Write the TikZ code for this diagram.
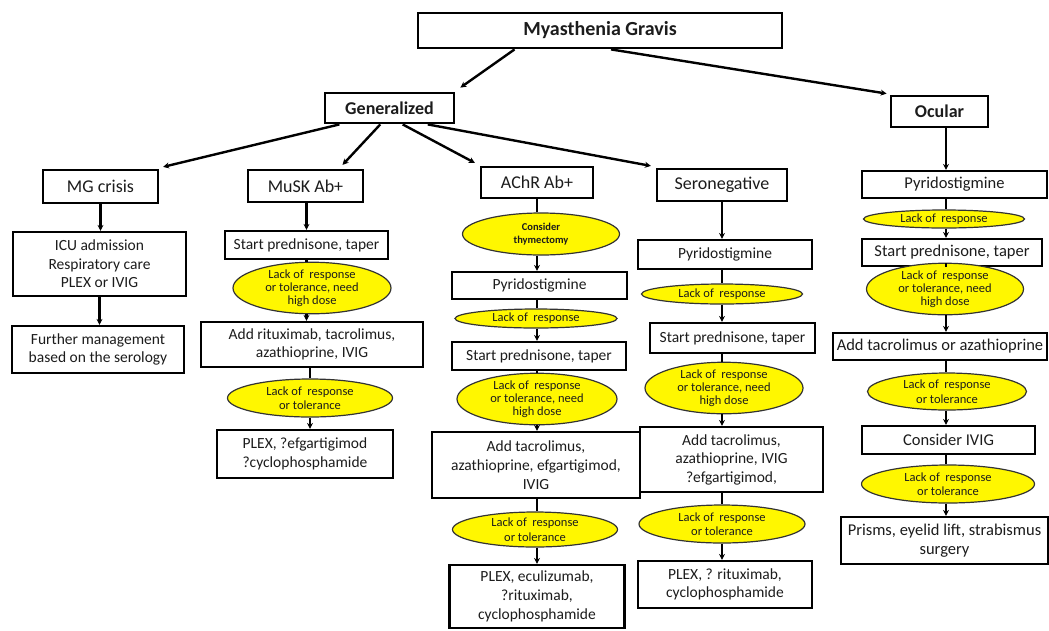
\documentclass[tikz,border=0pt]{standalone}
\usepackage{fontspec}
\setmainfont{Carlito}
\usetikzlibrary{arrows.meta,shapes.geometric,calc}
\definecolor{txt}{HTML}{1C1C1C}
\definecolor{ylw}{HTML}{FFF700}
\tikzset{
  bx/.style={draw=black, line width=2.2pt, fill=white, inner sep=0pt, align=center, text=txt, font=\fontsize{15.5}{18.5}\selectfont},
  obx/.style={bx, font=\fontsize{16.5}{19}\selectfont},
  tbx/.style={bx, line width=2.8pt, font=\bfseries\fontsize{18}{21}\selectfont},
  hbx/.style={bx, font=\fontsize{18}{21}\selectfont},
  el/.style={ellipse, draw=black!80, line width=1.2pt, fill=ylw, inner sep=0pt, align=center, text=txt, font=\fontsize{12.5}{14.5}\selectfont},
  elt/.style={el, font=\fontsize{12.5}{12.8}\selectfont},
  ln/.style={line width=2.4pt, draw=black},
  ar/.style={line width=2.4pt, draw=black, -{Stealth[length=6pt,width=6pt]}},
}
\begin{document}
\begin{tikzpicture}[x=1pt,y=-1pt]
\useasboundingbox (0,0) rectangle (1049,630);
\coordinate (cA) at (537,0);
\coordinate (cS) at (722,0);
\coordinate (cO) at (946,0);
% top
\node[tbx, minimum width=364, minimum height=35, font=\bfseries\fontsize{20}{23}\selectfont] (mg) at (600,30.5) {Myasthenia Gravis};
\node[tbx, minimum width=129, minimum height=30] (gen) at (389.5,108) {Generalized};
\node[tbx, minimum width=97, minimum height=31] (ocu) at (939.5,111.5) {Ocular};
% second row
\node[hbx, minimum width=115, minimum height=33] (crisis) at (100.5,186.5) {MG crisis};
\node[hbx, minimum width=115, minimum height=32] (musk) at (305.5,186) {MuSK Ab+};
\node[hbx, minimum width=112, minimum height=31] (achr) at (537,182.5) {AChR Ab+};
\node[hbx, minimum width=130, minimum height=32] (sero) at (722,185) {Seronegative};
\node[obx, minimum width=185, minimum height=27] (opyr) at (954.5,184.5) {Pyridostigmine};
% MG crisis column
\node[bx, minimum width=173, minimum height=64] (icu) at (99.5,264) {ICU admission\\Respiratory care\\PLEX or IVIG};
\node[bx, minimum width=172, minimum height=47] (further) at (98,349.5) {Further management\\based on the serology};
% MuSK column
\node[bx, minimum width=163, minimum height=28] (mpred) at (306.5,245) {Start prednisone, taper};
\node[elt, minimum width=158, minimum height=40] (me1) at (312,288) {Lack of\ \ response\\or tolerance, need\\high dose};
\node[bx, minimum width=222, minimum height=45] (madd) at (312,344.5) {Add rituximab, tacrolimus,\\azathioprine, IVIG};
\node[el, minimum width=165, minimum height=38] (me2) at (310,398) {Lack of\ \ response\\or tolerance};
\node[bx, minimum width=176, minimum height=48] (mplex) at (305,454) {PLEX, ?efgartigimod\\?cyclophosphamide};
% AChR column
\node[el, minimum width=157, minimum height=42, font=\bfseries\fontsize{10.5}{12.5}\selectfont] (ae0) at (541,234) {Consider\\thymectomy};
\node[bx, minimum width=175, minimum height=27] (apyr) at (539.5,285.5) {Pyridostigmine};
\node[el, minimum width=162, minimum height=19] (ae1) at (536,318.5) {Lack of\ \ response};
\node[bx, minimum width=174, minimum height=28] (apred) at (539,356) {Start prednisone, taper};
\node[elt, minimum width=160, minimum height=40] (ae2) at (537,399) {Lack of\ \ response\\or tolerance, need\\high dose};
\node[bx, minimum width=208, minimum height=66, font=\fontsize{15.5}{19}\selectfont] (aadd) at (536,465) {Add tacrolimus,\\azathioprine, efgartigimod,\\IVIG};
\node[el, minimum width=165, minimum height=35] (ae3) at (535,529.5) {Lack of\ \ response\\or tolerance};
\node[bx, minimum width=175, minimum height=63, font=\fontsize{15.5}{19}\selectfont] (aplex) at (537,596.5) {PLEX, eculizumab,\\?rituximab,\\cyclophosphamide};
% Seronegative column
\node[bx, minimum width=174, minimum height=29] (spyr) at (725,254.5) {Pyridostigmine};
\node[el, minimum width=161, minimum height=20] (se1) at (722,294) {Lack of\ \ response};
\node[bx, minimum width=165, minimum height=30] (spred) at (732.5,338) {Start prednisone, taper};
\node[elt, minimum width=158, minimum height=41] (se2) at (724,388) {Lack of\ \ response\\or tolerance, need\\high dose};
\node[bx, minimum width=183, minimum height=65] (sadd) at (731.5,459.5) {Add tacrolimus,\\azathioprine, IVIG\\?efgartigimod,};
\node[el, minimum width=166, minimum height=38] (se3) at (722,524) {Lack of\ \ response\\or tolerance};
\node[bx, minimum width=174, minimum height=47] (splex) at (725,584.5) {PLEX, ? rituximab,\\cyclophosphamide};
% Ocular column
\node[el, minimum width=161, minimum height=18] (oe1) at (944,219) {Lack of\ \ response};
\node[obx, minimum width=180, minimum height=27] (opred) at (952,252.5) {Start prednisone, taper};
\node[elt, minimum width=157, minimum height=42] (oe2) at (945,289) {Lack of\ \ response\\or tolerance, need\\high dose};
\node[obx, minimum width=214, minimum height=27] (oadd) at (940,346.5) {Add tacrolimus or azathioprine};
\node[el, minimum width=159, minimum height=37] (oe3) at (947,391.5) {Lack of\ \ response\\or tolerance};
\node[obx, minimum width=173, minimum height=28] (oivig) at (948.5,440) {Consider IVIG};
\node[el, minimum width=173, minimum height=38] (oe4) at (948,484) {Lack of\ \ response\\or tolerance};
\node[obx, minimum width=207, minimum height=47] (oprism) at (944.5,540.5) {Prisms, eyelid lift, strabismus\\surgery};
% top connectors
\draw[ar] ($(mg.south west)!0.267!(mg.south east)$) -- ($(gen.north east)+(5,-4)$);
\draw[ar] ($(mg.south west)!0.53!(mg.south east)$) -- ($(ocu.north west)+(-3,-1)$);
\draw[ar] ($(gen.south west)!0.12!(gen.south east)$) -- ($(crisis.north east)+(4,-2)$);
\draw[ar] ($(gen.south west)!0.43!(gen.south east)$) -- ($(musk.north)+(37,-4)$);
\draw[ar] ($(gen.south west)!0.6!(gen.south east)$) -- ($(achr.north west)+(-5,-3)$);
\draw[ar] ($(gen.south west)!0.79!(gen.south east)$) -- ($(sero.north west)+(-5,-2)$);
\draw[ar] (ocu.south -| cO) -- (opyr.north -| cO);
% MG crisis column
\draw[ar] (crisis.south) -- (crisis.south |- icu.north);
\draw[ar] (icu.south) -- (icu.south |- further.north);
% MuSK column
\draw[ar] (musk.south -| mpred.north) -- (mpred.north);
\draw[ln] (mpred.south) -- (mpred.south |- me1.north);
\draw[ar] (me1.south -| mpred.south) -- (mpred.south |- madd.north);
\draw[ln] (madd.south -| me2.north) -- (me2.north);
\draw[ar] (me2.south) -- (me2.south |- mplex.north);
% AChR column
\draw[ln] (achr.south -| cA) -- (ae0.north -| cA);
\draw[ar] (ae0.south -| cA) -- (apyr.north -| cA);
\draw[ln] (apyr.south -| cA) -- (ae1.north -| cA);
\draw[ar] (ae1.south -| cA) -- (apred.north -| cA);
\draw[ln] (apred.south -| cA) -- (ae2.north -| cA);
\draw[ar] (ae2.south -| cA) -- (aadd.north -| cA);
\draw[ln] (aadd.south -| cA) -- (ae3.north -| cA);
\draw[ar] (ae3.south -| cA) -- (aplex.north -| cA);
% Seronegative column
\draw[ar] (sero.south -| cS) -- (spyr.north -| cS);
\draw[ln] (spyr.south -| cS) -- (se1.north -| cS);
\draw[ar] (se1.south -| cS) -- (spred.north -| cS);
\draw[ln] (spred.south -| cS) -- (se2.north -| cS);
\draw[ar] (se2.south -| cS) -- (sadd.north -| cS);
\draw[ln] (sadd.south -| cS) -- (se3.north -| cS);
\draw[ar] (se3.south -| cS) -- (splex.north -| cS);
% Ocular column
\draw[ln] (opyr.south -| cO) -- (oe1.north -| cO);
\draw[ar] (oe1.south -| cO) -- (opred.north -| cO);
\draw[ln] (opred.south -| cO) -- (oe2.north -| cO);
\draw[ar] (oe2.south -| cO) -- (oadd.north -| cO);
\draw[ln] (oadd.south -| cO) -- (oe3.north -| cO);
\draw[ar] (oe3.south -| cO) -- (oivig.north -| cO);
\draw[ln] (oivig.south -| cO) -- (oe4.north -| cO);
\draw[ar] (oe4.south -| cO) -- (oprism.north -| cO);
\end{tikzpicture}
\end{document}
